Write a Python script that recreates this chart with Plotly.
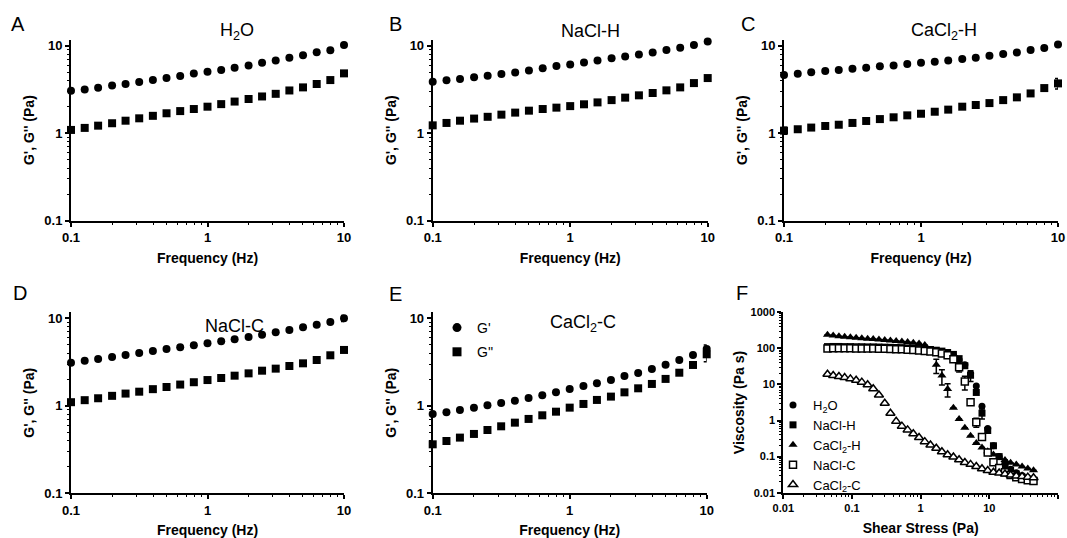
import plotly.graph_objects as go

# ---------------- data: panels A-E (oscillatory frequency sweeps) ----------------
freq = [0.1, 0.126, 0.158, 0.2, 0.251, 0.316, 0.398, 0.501, 0.631, 0.794, 1.0,
        1.26, 1.58, 2.0, 2.51, 3.16, 3.98, 5.01, 6.31, 7.94, 10.0]

h2o_gp = [3.06, 3.16, 3.30, 3.50, 3.65, 3.85, 4.05, 4.27, 4.50, 4.80, 5.05,
          5.27, 5.60, 5.95, 6.40, 6.80, 7.30, 7.80, 8.40, 8.90, 10.2]
h2o_gpp = [1.09, 1.15, 1.22, 1.30, 1.39, 1.48, 1.58, 1.69, 1.79, 1.89, 2.01,
           2.15, 2.30, 2.46, 2.63, 2.82, 3.08, 3.34, 3.65, 4.05, 4.83]

naclh_gp = [3.88, 4.02, 4.16, 4.35, 4.54, 4.74, 4.95, 5.22, 5.51, 5.86, 6.12,
            6.45, 6.80, 7.17, 7.55, 7.96, 8.39, 8.92, 9.48, 10.2, 11.2]
naclh_gpp = [1.23, 1.31, 1.39, 1.47, 1.54, 1.63, 1.72, 1.81, 1.89, 1.96, 2.04,
             2.14, 2.25, 2.39, 2.55, 2.71, 2.88, 3.09, 3.34, 3.74, 4.27]

cacl2h_gp = [4.62, 4.79, 4.96, 5.13, 5.27, 5.46, 5.61, 5.81, 5.96, 6.17, 6.39,
             6.56, 6.80, 7.04, 7.29, 7.69, 8.04, 8.39, 8.92, 9.40, 10.35]
cacl2h_gpp = [1.07, 1.11, 1.16, 1.21, 1.25, 1.31, 1.38, 1.45, 1.52, 1.60, 1.67,
              1.76, 1.86, 2.01, 2.10, 2.21, 2.39, 2.57, 2.85, 3.28, 3.71]
cacl2h_gpp_err = [0.1, 0, 0, 0, 0, 0, 0, 0, 0, 0, 0, 0, 0, 0, 0, 0, 0, 0, 0, 0, 0.5]

naclc_gp = [3.11, 3.28, 3.43, 3.61, 3.81, 4.02, 4.24, 4.47, 4.67, 4.91, 5.18,
            5.46, 5.75, 6.12, 6.51, 6.92, 7.36, 7.89, 8.47, 9.08, 10.0]
naclc_gp_err = [0, 0, 0, 0, 0, 0, 0, 0, 0, 0, 0, 0, 0, 0, 0, 0, 0, 0, 0, 0, 0.8]
naclc_gpp = [1.10, 1.16, 1.22, 1.30, 1.38, 1.45, 1.55, 1.64, 1.75, 1.86, 1.97,
             2.08, 2.21, 2.35, 2.52, 2.66, 2.85, 3.06, 3.34, 3.78, 4.35]

cacl2c_gp = [0.807, 0.843, 0.896, 0.953, 1.013, 1.077, 1.146, 1.229, 1.318, 1.426, 1.556,
             1.685, 1.807, 1.974, 2.19, 2.37, 2.64, 2.95, 3.34, 3.81, 4.47]
cacl2c_gp_err = [0, 0, 0, 0, 0, 0, 0, 0, 0, 0, 0, 0, 0, 0, 0, 0, 0, 0, 0, 0, 0.5]
cacl2c_gpp = [0.363, 0.396, 0.433, 0.477, 0.529, 0.583, 0.642, 0.708, 0.779, 0.857, 0.953,
              1.05, 1.167, 1.274, 1.426, 1.585, 1.778, 2.03, 2.39, 2.93, 3.88]
cacl2c_gpp_err = [0, 0, 0, 0, 0, 0, 0, 0, 0, 0, 0, 0, 0, 0, 0, 0, 0, 0, 0, 0, 0.7]

# ---------------- data: panel F (steady shear viscosity) ----------------
shear = [0.044, 0.0533, 0.0646, 0.0782, 0.0948, 0.115, 0.139, 0.169, 0.204, 0.247,
         0.300, 0.363, 0.440, 0.533, 0.646, 0.782, 0.948, 1.148, 1.39, 1.69,
         2.04, 2.47, 3.00, 3.63, 4.40, 5.33, 6.46, 7.82, 9.48, 11.48,
         13.9, 16.9, 20.4, 24.7, 30.0, 36.3, 44.0]

visc_h2o = [105, 106, 106, 106, 106, 105, 105, 104, 104, 103,
            102, 101, 100, 99, 97, 95, 93, 90, 87, 83,
            78, 70, 60, 48, 35, 20, 9, 2.5, 0.6, 0.2,
            0.1, 0.06, 0.045, 0.036, 0.03, 0.026, 0.023]
visc_naclh = [112, 113, 113, 112, 112, 111, 111, 110, 110, 109,
              108, 107, 106, 105, 103, 101, 99, 96, 93, 89,
              84, 77, 68, 52, 33, 18, 6, 1.6, 0.53, 0.2,
              0.1, 0.06, 0.042, 0.033, 0.027, 0.023, 0.021]
visc_naclh_err = [0] * 25 + [6, 0, 0.5] + [0] * 9
visc_cacl2h = [240, 228, 218, 210, 203, 197, 191, 186, 181, 176,
               171, 166, 161, 156, 150, 144, 137, 125, 75, 35,
               17.7, 7.5, 2.27, 1.1, 0.63, 0.38, 0.24, 0.18, 0.14, 0.115,
               0.095, 0.08, 0.068, 0.06, 0.053, 0.047, 0.042]
visc_cacl2h_err = [0] * 19 + [15, 8, 3] + [0] * 15
visc_naclc = [100, 101, 101, 101, 101, 100, 100, 99, 99, 98,
              97, 96, 95, 94, 92, 90, 88, 85, 82, 78,
              72, 65, 50, 30, 12, 3.2, 0.9, 0.35, 0.13, 0.07,
              0.048, 0.037, 0.031, 0.027, 0.024, 0.022, 0.021]
visc_naclc_err = [0] * 23 + [8, 5, 0, 0.25] + [0] * 10
visc_cacl2c = [19.2, 17.7, 16.6, 15.5, 14.3, 13.1, 11.6, 9.8, 7.6, 5.1,
               3.0, 1.6, 0.95, 0.7, 0.55, 0.43, 0.34, 0.26, 0.21, 0.17,
               0.136, 0.113, 0.098, 0.082, 0.069, 0.061, 0.053, 0.046, 0.041, 0.037,
               0.035, 0.033, 0.031, 0.029, 0.028, 0.027, 0.026]

W, H = 1067, 538
FONT = "Arial, Liberation Sans, sans-serif"


def px_x(p):
    return p / W


def px_y(p):
    return 1 - p / H


fig = go.Figure()

# ---------------- panel geometry (pixel positions) ----------------
panels = {
    'A': dict(x=(71, 344), y=(220.7, 39.6)),
    'B': dict(x=(432.7, 707.7), y=(220.7, 39.6)),
    'C': dict(x=(784, 1058), y=(220.7, 39.6)),
    'D': dict(x=(71, 344), y=(493.3, 312.2)),
    'E': dict(x=(432.7, 706.7), y=(493.3, 312.2)),
    'F': dict(x=(783.3, 1058), y=(492.7, 312.3)),
}

freq_data = [
    ('A', h2o_gp, None, h2o_gpp, None),
    ('B', naclh_gp, None, naclh_gpp, None),
    ('C', cacl2h_gp, None, cacl2h_gpp, cacl2h_gpp_err),
    ('D', naclc_gp, naclc_gp_err, naclc_gpp, None),
    ('E', cacl2c_gp, cacl2c_gp_err, cacl2c_gpp, cacl2c_gpp_err),
]


def err(arr):
    if arr is None:
        return None
    return dict(type='data', array=arr, visible=True, color='black', thickness=1.5, width=3)


for i, (name, gp, gp_e, gpp, gpp_e) in enumerate(freq_data):
    n = i + 1
    xa = 'x' if n == 1 else f'x{n}'
    ya = 'y' if n == 1 else f'y{n}'
    fig.add_trace(go.Scatter(x=freq, y=gpp, mode='markers', xaxis=xa, yaxis=ya,
                             marker=dict(symbol='square', size=8, color='black'),
                             error_y=err(gpp_e), cliponaxis=False, name="G''",
                             showlegend=False))
    fig.add_trace(go.Scatter(x=freq, y=gp, mode='markers', xaxis=xa, yaxis=ya,
                             marker=dict(symbol='circle', size=8, color='black'),
                             error_y=err(gp_e), cliponaxis=False, name="G'",
                             showlegend=False))

# legend entries of panel E
fig.add_trace(go.Scatter(x=[None], y=[None], mode='markers', xaxis='x5', yaxis='y5',
                         marker=dict(symbol='circle', size=9, color='black'),
                         name="G'", legend='legend', legendgroup='a', showlegend=True))
fig.add_trace(go.Scatter(x=[None], y=[None], mode='markers', xaxis='x5', yaxis='y5',
                         marker=dict(symbol='square', size=9, color='black'),
                         name="G''", legend='legend', legendgroup='b', showlegend=True))

# panel F
f_series = [
    ('H<sub>2</sub>O', visc_h2o, None, dict(symbol='circle', size=7, color='black')),
    ('NaCl-H', visc_naclh, visc_naclh_err, dict(symbol='square', size=7, color='black')),
    ('CaCl<sub>2</sub>-H', visc_cacl2h, visc_cacl2h_err, dict(symbol='triangle-up', size=8, color='black')),
    ('NaCl-C', visc_naclc, visc_naclc_err, dict(symbol='square', size=7, color='white',
                                                 line=dict(color='black', width=1.5))),
    ('CaCl<sub>2</sub>-C', visc_cacl2c, None, dict(symbol='triangle-up', size=8, color='white',
                                                   line=dict(color='black', width=1.5))),
]
for name, v, e, mk in f_series:
    fig.add_trace(go.Scatter(x=shear, y=v, mode='markers', xaxis='x6', yaxis='y6',
                             marker=mk, error_y=err(e), cliponaxis=False, name=name,
                             legend='legend2', showlegend=True))


def axis_common(tsize):
    return dict(type='log', showline=True, linecolor='black', linewidth=2,
                ticks='outside', ticklen=4, tickwidth=1.5, tickcolor='black',
                showgrid=False, zeroline=False, dtick=1, exponentformat='none',
                tickfont=dict(family=FONT, size=tsize, color='black', weight='bold'),
                minor=dict(ticks='outside', ticklen=2, tickwidth=1, tickcolor='black',
                           dtick='D1', showgrid=False),
                automargin=False, fixedrange=True)


layout = dict(width=W, height=H, margin=dict(l=0, r=0, t=0, b=0),
              paper_bgcolor='white', plot_bgcolor='white',
              font=dict(family=FONT, color='black'))

for i, key in enumerate(['A', 'B', 'C', 'D', 'E', 'F']):
    n = i + 1
    p = panels[key]
    xd = [px_x(p['x'][0]), px_x(p['x'][1])]
    yd = [px_y(p['y'][0]), px_y(p['y'][1])]
    xname = 'xaxis' if n == 1 else f'xaxis{n}'
    yname = 'yaxis' if n == 1 else f'yaxis{n}'
    anchor_x = 'y' if n == 1 else f'y{n}'
    anchor_y = 'x' if n == 1 else f'x{n}'
    if key == 'F':
        xr, yr = [-2, 2], [-2, 3]
        xt, yt = 'Shear Stress (Pa)', 'Viscosity (Pa s)'
        tsize, xs, ys = 11, 10, 3
    else:
        xr, yr = [-1, 1], [-1, 1.07]
        xt, yt = 'Frequency (Hz)', "G', G'' (Pa)"
        tsize, xs, ys = 13, 9, 6
    layout[xname] = dict(axis_common(tsize), domain=xd, anchor=anchor_x, range=xr,
                         title=dict(text=xt, standoff=xs,
                                    font=dict(family=FONT, size=14, weight='bold')))
    layout[yname] = dict(axis_common(tsize), domain=yd, anchor=anchor_y, range=yr,
                         title=dict(text=yt, standoff=ys,
                                    font=dict(family=FONT, size=14, weight='bold')))

layout['legend'] = dict(x=px_x(437), y=px_y(312), xanchor='left', yanchor='top',
                        bgcolor='rgba(0,0,0,0)', font=dict(family=FONT, size=14),
                        tracegroupgap=3, traceorder='grouped')
layout['legend2'] = dict(x=px_x(773), y=px_y(390), xanchor='left', yanchor='top',
                         bgcolor='rgba(0,0,0,0)', font=dict(family=FONT, size=13),
                         tracegroupgap=0)

annotations = []
letters = [('A', 18, 24), ('B', 395, 24), ('C', 748, 24),
           ('D', 20, 293), ('E', 395, 294), ('F', 742, 293)]
for t, x, y in letters:
    annotations.append(dict(text=t, x=px_x(x), y=px_y(y), xref='paper', yref='paper',
                            showarrow=False, xanchor='center', yanchor='middle',
                            font=dict(family=FONT, size=20, color='black')))
titles = [('H<sub>2</sub>O', 237, 31), ('NaCl-H', 590, 31), ('CaCl<sub>2</sub>-H', 944, 31),
          ('NaCl-C', 234, 326), ('CaCl<sub>2</sub>-C', 583, 323)]
for t, x, y in titles:
    annotations.append(dict(text=t, x=px_x(x), y=px_y(y), xref='paper', yref='paper',
                            showarrow=False, xanchor='center', yanchor='middle',
                            font=dict(family=FONT, size=18, color='black')))
layout['annotations'] = annotations

fig.update_layout(layout)
fig.write_html("out.html", config={'displayModeBar': False},
               post_script="document.body.style.margin='0px';")
